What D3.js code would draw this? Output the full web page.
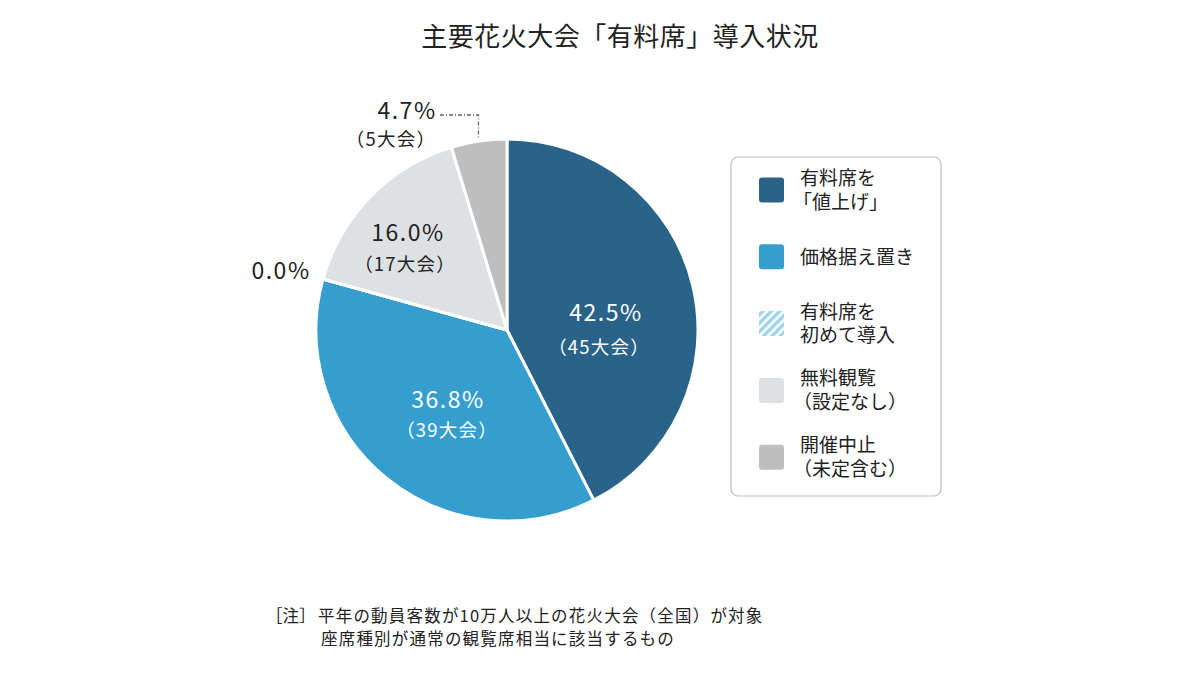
<!DOCTYPE html>
<html>
<head>
<meta charset="utf-8">
<script src="https://cdn.jsdelivr.net/npm/d3@7"></script>
<style>
  body { margin: 0; background: #fff; }
  text { font-family: "Noto Sans CJK JP", "Noto Sans", sans-serif; fill: #222; }
</style>
</head>
<body>
<div id="chart"></div>
<script>
// data
var categories = ["有料席を「値上げ」", "価格据え置き", "有料席を初めて導入", "無料観覧（設定なし）", "開催中止（未定含む）"];
var legendLines = [["有料席を", "「値上げ」"], ["価格据え置き"], ["有料席を", "初めて導入"], ["無料観覧", "（設定なし）"], ["開催中止", "（未定含む）"]];
var shares = [42.5, 36.8, 0.0, 16.0, 4.7];
var counts = [45, 39, 0, 17, 5];
var colors = ["#2a6389", "#359ecf", "url(#hatch)", "#dde1e4", "#bebebe"];

var w = 1200, h = 675;
var cx = 507, cy = 330, r = 191;

var svg = d3.select("#chart").append("svg")
    .attr("width", w)
    .attr("height", h);

// hatch pattern for "初めて導入"
var defs = svg.append("defs");
var pat = defs.append("pattern")
    .attr("id", "hatch")
    .attr("patternUnits", "userSpaceOnUse")
    .attr("width", 6)
    .attr("height", 6)
    .attr("patternTransform", "rotate(45)");
pat.append("rect").attr("width", 6).attr("height", 6).attr("fill", "#fff");
pat.append("rect").attr("width", 3.5).attr("height", 6).attr("fill", "#9fd3ea");

// title
svg.append("text")
    .attr("x", 620)
    .attr("y", 46)
    .attr("text-anchor", "middle")
    .style("font-size", "26px")
    .style("letter-spacing", "0.5px")
    .text("主要花火大会「有料席」導入状況");

// pie
var pie = d3.pie().sort(null).value(function(d) { return d; });
var arc = d3.arc().innerRadius(0).outerRadius(r);
var arcs = pie(shares);

var g = svg.append("g").attr("transform", "translate(" + cx + "," + cy + ")");
g.selectAll("path")
    .data(arcs)
    .enter().append("path")
    .attr("d", arc)
    .style("fill", function(d, i) { return colors[i]; })
    .style("stroke", "#fff")
    .style("stroke-width", 3)
    .style("stroke-linejoin", "round");

// labels (offsets from the pie centre)
var labelPos = [[99, -17], [-59, 70], [-226, -59], [-99, -97], [-100, -219]];
var countPos = [[92, 18], [-60, 101], [-226, -59], [-102, -65], [-116, -190]];
var labelColor = ["#fff", "#fff", "#222", "#222", "#222"];

arcs.forEach(function(d, i) {
    g.append("text")
        .attr("x", labelPos[i][0])
        .attr("y", labelPos[i][1])
        .attr("text-anchor", "middle")
        .attr("dy", "0.35em")
        .style("font-size", "23px")
        .style("letter-spacing", "1.5px")
        .style("fill", labelColor[i])
        .text(d3.format(".1f")(shares[i]) + "%");
    if (counts[i] > 0) {
        g.append("text")
            .attr("x", countPos[i][0])
            .attr("y", countPos[i][1])
            .attr("text-anchor", "middle")
            .attr("dy", "0.35em")
            .style("font-size", "18.5px")
            .style("letter-spacing", "1.2px")
            .style("fill", labelColor[i])
            .text("（" + counts[i] + "大会）");
    }
});

// leader line for the small slice
var small = arcs[4];
var mid = (small.startAngle + small.endAngle) / 2;
var lx = Math.sin(mid) * (r + 3), ly = -Math.cos(mid) * (r + 3);
g.append("path")
    .attr("d", "M" + (-67) + "," + (-215) + "H" + (lx) + "V" + (ly))
    .style("fill", "none")
    .style("stroke", "#666")
    .style("stroke-width", 1.3)
    .style("stroke-dasharray", "4,2,1,2");

// legend
var lg = svg.append("g").attr("transform", "translate(731,157)");
lg.append("rect")
    .attr("width", 210)
    .attr("height", 339)
    .attr("rx", 7)
    .style("fill", "#fff")
    .style("stroke", "#bdbdbd")
    .style("stroke-width", 1.2);

var item = lg.selectAll(".legend")
    .data(categories)
    .enter().append("g")
    .attr("class", "legend")
    .attr("transform", function(d, i) { return "translate(0," + (33 + i * 66.8) + ")"; });

item.append("rect")
    .attr("x", 28)
    .attr("y", -12.5)
    .attr("width", 25)
    .attr("height", 25)
    .attr("rx", 3)
    .style("fill", function(d, i) { return colors[i]; });

// one text per legend line
item.each(function(d, i) {
    var lines = legendLines[i];
    var sel = d3.select(this);
    lines.forEach(function(s, k) {
        sel.append("text")
            .attr("x", s.charAt(0) === "（" || s.charAt(0) === "「" ? 62 : 69)
            .attr("y", (k - (lines.length - 1) / 2) * 23.5)
            .attr("dy", "0.36em")
            .style("font-size", "19px")
            .text(s);
    });
});

// footnote
svg.append("text")
    .attr("x", 266)
    .attr("y", 622)
    .style("font-size", "16.5px")
    .text("［注］");
svg.append("text")
    .attr("x", 318)
    .attr("y", 622)
    .style("font-size", "16.5px")
    .style("letter-spacing", "1.2px")
    .text("平年の動員客数が10万人以上の花火大会（全国）が対象");
svg.append("text")
    .attr("x", 321)
    .attr("y", 645)
    .style("font-size", "16.5px")
    .style("letter-spacing", "1.2px")
    .text("座席種別が通常の観覧席相当に該当するもの");
</script>
</body>
</html>
